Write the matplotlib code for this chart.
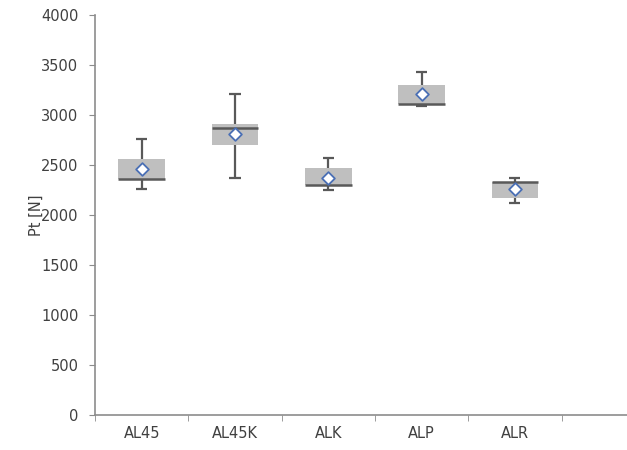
import matplotlib
matplotlib.use("Agg")
import matplotlib.pyplot as plt
import numpy as np

# values (Pt [N])
categories = ["AL45", "AL45K", "ALK", "ALP", "ALR"]
whisker_low = [2265, 2375, 2250, 3090, 2125]
box_low = [2365, 2700, 2300, 3110, 2175]
median = [2365, 2870, 2300, 3110, 2330]
box_high = [2560, 2915, 2475, 3300, 2330]
whisker_high = [2765, 3210, 2570, 3435, 2375]
mean = [2460, 2815, 2375, 3215, 2265]

TEXT = "#404040"
AXIS = "#8c8c8c"
BOX = "#bfbfbf"
LINE = "#595959"

fig = plt.figure(figsize=(6.27, 4.5), dpi=100)
ax = fig.add_axes([95 / 627, 35 / 450, 532 / 627, 400 / 450])

x = np.arange(1, len(categories) + 1)
lo = np.array(box_low)
hi = np.array(box_high)

ax.vlines(x, whisker_low, whisker_high, color=LINE, linewidth=1.6, zorder=1)
ax.hlines(whisker_low, x - 0.06, x + 0.06, color=LINE, linewidth=1.6, zorder=1)
ax.hlines(whisker_high, x - 0.06, x + 0.06, color=LINE, linewidth=1.6, zorder=1)
ax.bar(x, hi - lo, bottom=lo, width=0.5, color=BOX, edgecolor="none", zorder=2)
ax.hlines(median, x - 0.25, x + 0.25, color=LINE, linewidth=1.8, zorder=3)
ax.scatter(x, mean, marker="D", s=42, facecolor="white", edgecolor="#4a6fb5",
           linewidth=1.3, zorder=4)

ax.set_xlim(0.5, 0.5 + 532 / 93.3)
ax.set_ylim(0, 4000)
ax.set_yticks(np.arange(0, 4001, 500))
ax.set_xticks(x)
ax.set_xticklabels(categories)
ax.set_xticks(np.arange(0.5, 6.0, 1.0), minor=True)
ax.tick_params(axis="x", which="major", length=0, pad=8, labelsize=10.5, labelcolor=TEXT)
ax.tick_params(axis="x", which="minor", length=4, color=AXIS, direction="out")
ax.tick_params(axis="y", length=4, color=AXIS, labelsize=10.5, labelcolor=TEXT, pad=8)

for side in ("top", "right"):
    ax.spines[side].set_visible(False)
for side in ("left", "bottom"):
    ax.spines[side].set_color(AXIS)
    ax.spines[side].set_linewidth(1.2)

ax.set_ylabel("Pt [N]", color=TEXT, fontsize=10.5, labelpad=-2)

fig.savefig("out.png", dpi=100)
